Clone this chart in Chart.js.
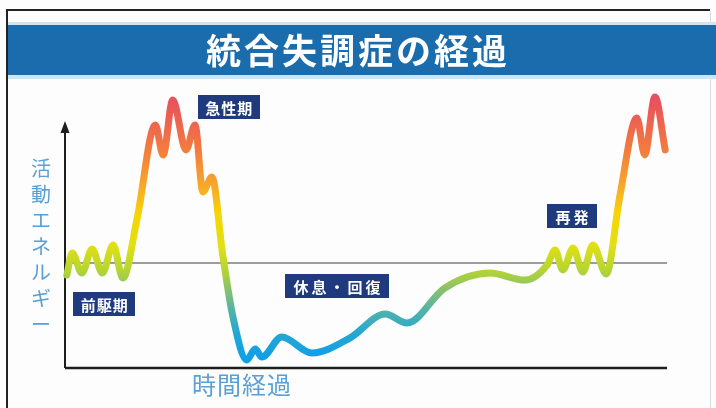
<!DOCTYPE html>
<html>
<head>
<meta charset="utf-8">
<script src="https://cdn.jsdelivr.net/npm/chart.js@4"></script>
<style>
  html, body { margin: 0; padding: 0; background: #fdfdfd; }
  #wrap { width: 716px; height: 408px; position: relative; }
</style>
</head>
<body>
<div id="wrap"><canvas id="myChart"></canvas></div>
<script>
// time along the x axis (0 - 100) and activity energy (0 - 100)
var timeX = [0.3, 1.2, 2.8, 4.5, 6.2, 8.0, 9.6, 12.0, 15.0, 16.3, 17.9, 20.1, 21.6, 22.9, 24.4,
  26.2, 27.9, 30.2, 31.6, 32.7, 36.0, 41.0, 47.3, 53.2, 56.8, 63.1, 70.6, 76.4, 80.1,
  81.4, 82.7, 84.4, 86.0, 87.7, 89.9, 92.2, 95.0, 96.3, 98.0, 99.7];
var energy = [33.2, 41.1, 33.9, 42.5, 33.9, 43.9, 32.1, 53.6, 86.8, 76.1, 95.7, 77.9, 86.8, 62.9, 68.2,
  40.4, 18.2, 2.9, 6.8, 3.9, 11.1, 5.4, 10.7, 19.3, 16.1, 28.6, 33.9, 31.4, 36.8,
  42.1, 35.0, 42.9, 34.3, 43.9, 33.6, 61.8, 89.3, 76.1, 96.8, 77.9];
var baselineEnergy = 37.5;

var titleText = "統合失調症の経過";
var yTitle = ["活", "動", "エ", "ネ", "ル", "ギ", "ー"];
var xTitle = "時間経過";
var phaseNames = ["前駆期", "急性期", "休息・回復", "再発"];
// where each phase tag sits, in data units
var phaseAt = [[6.5, 22.9], [27.2, 93.2], [45.2, 29.3], [84.2, 54.3]];

var points = [];
for (var i = 0; i < timeX.length; i++) {
  points.push({ x: timeX[i], y: energy[i] });
}

function lineGradient(context) {
  var chart = context.chart;
  var area = chart.chartArea;
  if (!area) return "#9c3";
  var g = chart.ctx.createLinearGradient(0, area.bottom, 0, area.top);
  g.addColorStop(0.03, "#0d9fe8");
  g.addColorStop(0.12, "#22a7d4");
  g.addColorStop(0.21, "#55b3a6");
  g.addColorStop(0.28, "#88c16c");
  g.addColorStop(0.35, "#b5d532");
  g.addColorStop(0.44, "#e2e012");
  g.addColorStop(0.55, "#f7d402");
  g.addColorStop(0.65, "#f8a82a");
  g.addColorStop(0.78, "#f37b3e");
  g.addColorStop(0.96, "#e8505f");
  return g;
}

var decor = {
  id: "decor",
  beforeDraw: function (chart) {
    var c = chart.ctx;
    var a = chart.chartArea;
    var sx = chart.scales.x, sy = chart.scales.y;
    c.save();
    // frame
    c.strokeStyle = "#222";
    c.lineWidth = 2;
    c.beginPath();
    c.moveTo(7, 408); c.lineTo(7, 10); c.lineTo(710, 10);
    c.stroke();
    c.strokeStyle = "#d8dcdc";
    c.lineWidth = 1;
    c.beginPath();
    c.moveTo(710.5, 11); c.lineTo(710.5, 408);
    c.stroke();
    // banner
    c.fillStyle = "#cfe6f1";
    c.fillRect(8, 22, 708, 57);
    c.fillStyle = "#1b6cad";
    c.fillRect(8, 25, 708, 50);
    c.fillStyle = "#fff";
    c.font = "bold 35px 'Noto Sans CJK JP'";
    c.letterSpacing = "3px";
    c.textAlign = "center";
    c.textBaseline = "middle";
    c.fillText(titleText, 358, 51);
    c.letterSpacing = "0px";

    // baseline of normal activity
    var yb = sy.getPixelForValue(baselineEnergy);
    c.strokeStyle = "#7a7d7d";
    c.lineWidth = 1.3;
    c.beginPath();
    c.moveTo(a.left, yb); c.lineTo(a.right, yb);
    c.stroke();

    // axes
    c.strokeStyle = "#1e1e1e";
    c.lineWidth = 2.5;
    c.beginPath();
    c.moveTo(a.left, a.bottom); c.lineTo(a.right, a.bottom);
    c.stroke();
    c.lineWidth = 2;
    c.beginPath();
    c.moveTo(a.left, a.bottom); c.lineTo(a.left, 130);
    c.stroke();
    c.fillStyle = "#1e1e1e";
    c.beginPath();
    c.moveTo(a.left, 121); c.lineTo(a.left - 4.5, 133); c.lineTo(a.left + 4.5, 133);
    c.closePath();
    c.fill();

    // axis titles
    c.fillStyle = "#5b9fd3";
    c.font = "20px 'Noto Sans CJK JP'";
    for (var k = 0; k < yTitle.length; k++) {
      c.fillText(yTitle[k], 41, 168 + k * 26);
    }
    c.font = "24px 'Noto Sans CJK JP'";
    c.letterSpacing = "1px";
    c.fillText(xTitle, 242, 385);
    c.letterSpacing = "0px";
    c.restore();
  },
  afterDatasetsDraw: function (chart) {
    var c = chart.ctx;
    var sx = chart.scales.x, sy = chart.scales.y;
    c.save();
    c.font = "bold 15px 'Noto Sans CJK JP'";
    c.textAlign = "center";
    c.textBaseline = "middle";
    for (var k = 0; k < phaseNames.length; k++) {
      var px = sx.getPixelForValue(phaseAt[k][0]);
      var py = sy.getPixelForValue(phaseAt[k][1]);
      var sp = phaseNames[k].length <= 2 || phaseNames[k].length >= 5 ? 3 : 1;
      c.letterSpacing = sp + "px";
      var w = c.measureText(phaseNames[k]).width + 14;
      var h = 24;
      c.fillStyle = "#1f3b7e";
      c.fillRect(Math.round(px - w / 2), Math.round(py - h / 2), Math.round(w), h);
      c.fillStyle = "#fff";
      c.fillText(phaseNames[k], px + sp / 2, py + 1);
    }
    c.restore();
  }
};

var chart = new Chart(document.getElementById("myChart"), {
  type: "line",
  data: {
    datasets: [{
      label: "活動エネルギー",
      data: points,
      borderColor: lineGradient,
      borderWidth: 7,
      borderCapStyle: "round",
      borderJoinStyle: "round",
      pointRadius: 0,
      fill: false,
      cubicInterpolationMode: "monotone",
      clip: false
    }]
  },
  options: {
    responsive: true,
    maintainAspectRatio: false,
    animation: false,
    layout: { padding: { left: 65, right: 49, top: 88, bottom: 40 } },
    scales: {
      x: { type: "linear", min: 0, max: 100, display: false },
      y: { type: "linear", min: 0, max: 100, display: false }
    },
    plugins: {
      legend: { display: false },
      tooltip: { enabled: false }
    }
  },
  plugins: [decor]
});
</script>
</body>
</html>
